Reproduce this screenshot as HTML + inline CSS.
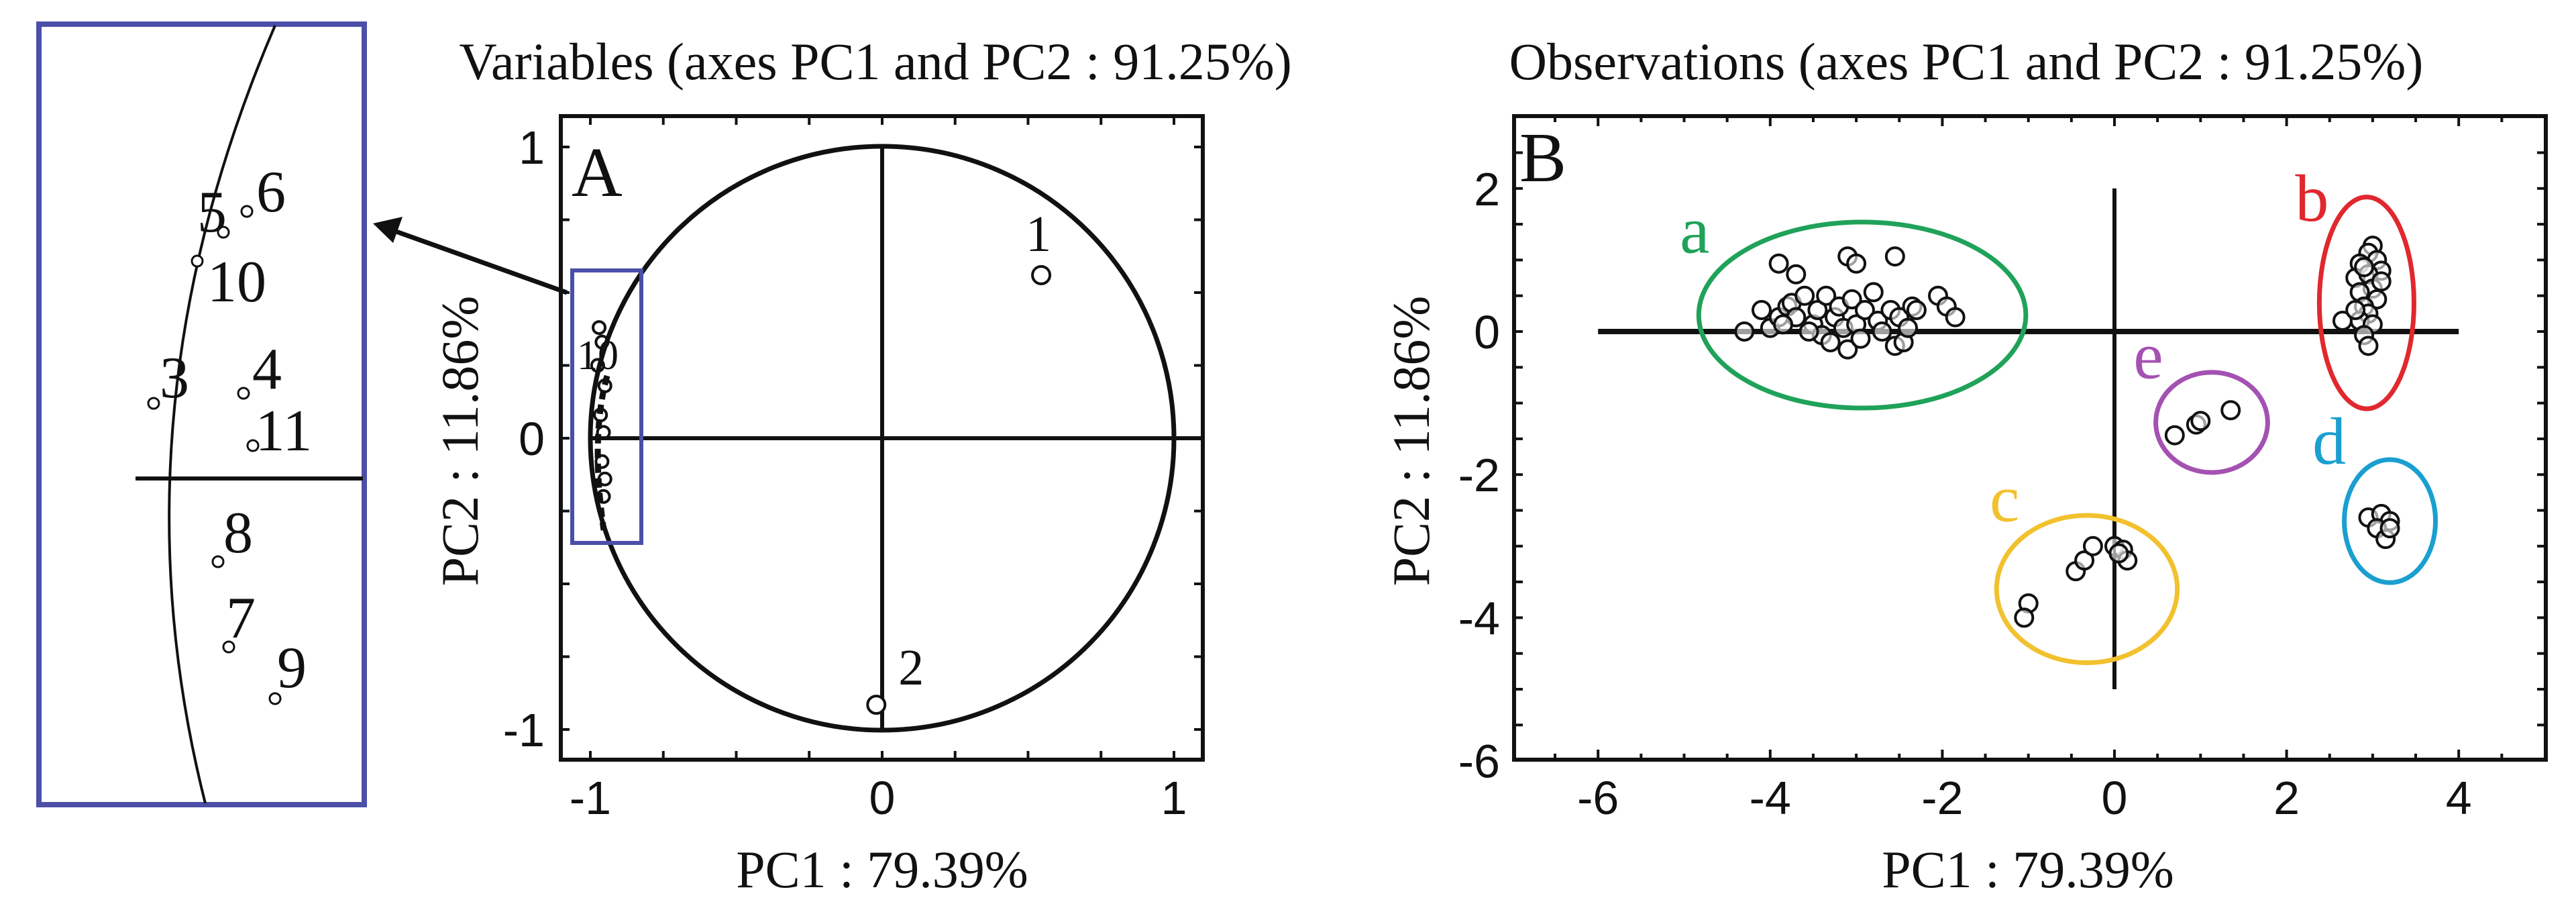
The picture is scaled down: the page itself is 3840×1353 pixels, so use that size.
<!DOCTYPE html>
<html><head><meta charset="utf-8"><style>
html,body{margin:0;padding:0;background:#fff;}
svg{display:block;}
text{font-family:"Liberation Serif",serif;fill:#111;}
.tick{font-family:"Liberation Sans",sans-serif;font-size:70px;}
</style></head><body>
<svg id="fig" width="3840" height="1353" viewBox="0 0 3840 1353" xmlns="http://www.w3.org/2000/svg">
<g id="inset"></g>
<g id="panelA"></g>
<g id="panelB"></g>
</svg>
<script>
// ---- Panel A data (variable loadings) ----
const varLabels = ["1","2"];
const varX = [0.545, -0.02];
const varY = [0.56, -0.915];
const clusterX = [-0.97,-0.96,-0.975,-0.95,-0.965,-0.955,-0.96,-0.95,-0.955];
const clusterY = [0.38,0.33,0.25,0.18,0.08,0.02,-0.08,-0.14,-0.2];
const axisTicksA = [-1,0,1];
// ---- Inset data (zoomed variables 3-11) ----
const insetLabels = ["5","6","10","3","4","11","8","7","9"];
const insetX = [333,368,294,229,363,377,325,341,410];
const insetY = [346,315,389,601,586,664,837,964,1041];
const insetLabelX = [316,404,353,260,398,423,355,359,435];
const insetLabelY = [315,285,419,562,549,641,793,920,994];

// ---- Panel B data (observations) ----
const groupNames = ["a","b","c","d","e"];
const groupColors = ["#1fa259","#e0282e","#f2c12e","#1a9fd0","#a452b2"];
const groupCX = [-2.93,2.93,-0.32,3.2,1.13];
const groupCY = [0.23,0.4,-3.6,-2.65,-1.27];
const groupRX = [1.9,0.55,1.05,0.53,0.65];
const groupRY = [1.3,1.48,1.03,0.86,0.7];
const groupLabelX = [-5.05,2.1,-1.45,2.3,0.22];
const groupLabelY = [1.1,1.55,-2.65,-1.85,-0.65];
const obsAX = [-3.9,-3.7,-3.1,-3.0,-2.55,-4.3,-4.1,-4.0,-3.9,-3.8,-3.75,-3.7,-3.6,-3.5,-3.45,-3.4,-3.35,-3.3,-3.25,-3.2,-3.15,-3.1,-3.05,-3.0,-2.95,-2.9,-2.8,-2.75,-2.7,-2.6,-2.55,-2.5,-2.45,-2.4,-2.35,-2.3,-2.05,-1.95,-1.85,-3.55,-3.85];
const obsAY = [0.95,0.8,1.05,0.95,1.05,0,0.3,0.05,0.2,0.35,0.4,0.2,0.5,0.1,0.3,-0.05,0.5,-0.15,0.2,0.35,0.05,-0.25,0.45,0.1,-0.1,0.3,0.55,0.15,0,0.3,-0.2,0.2,-0.15,0.05,0.35,0.3,0.5,0.35,0.2,0,0.1];
const obsBX = [3.0,2.95,3.05,2.85,3.1,2.8,2.95,3.0,2.85,3.05,2.9,2.95,2.85,3.0,2.65,2.9,2.95,2.8,3.1,2.9];
const obsBY = [1.2,1.1,1.0,0.95,0.85,0.75,0.8,0.6,0.55,0.45,0.35,0.25,0.15,0.1,0.15,-0.05,-0.2,0.3,0.7,0.9];
const obsCX = [-1.0,-1.05,-0.45,-0.35,-0.25,0,0.1,0.15,0.05];
const obsCY = [-3.8,-4.0,-3.35,-3.2,-3.0,-3.0,-3.05,-3.2,-3.1];
const obsDX = [2.95,3.1,3.2,3.05,3.15,3.2];
const obsDY = [-2.6,-2.55,-2.65,-2.75,-2.9,-2.75];
const obsEX = [0.7,0.95,1.0,1.35];
const obsEY = [-1.45,-1.3,-1.25,-1.1];
const xTicksB = [-6,-4,-2,0,2,4];
const yTicksB = [2,0,-2,-4,-6];

const NS="http://www.w3.org/2000/svg";
function mk(parent,tag,attrs,txt){const e=document.createElementNS(NS,tag);for(const k in attrs)e.setAttribute(k,attrs[k]);if(txt!==undefined)e.textContent=txt;parent.appendChild(e);return e;}

// ===== Panel A =====
const A=document.getElementById('panelA');
const ax=v=>1315+v*435, ay=v=>653-v*434;
let t=mk(A,'text',{x:1305,y:118,'font-size':78,'text-anchor':'middle'},"Variables (axes PC1 and PC2 : 91.25%)");


let f=mk(A,'rect',{x:836,y:173,width:957,height:959,fill:'none',stroke:'#111','stroke-width':6});


for(let v=-1;v<=1.01;v+=0.25){
  mk(A,'line',{x1:ax(v),x2:ax(v),y1:173,y2:186,stroke:'#111','stroke-width':4});
  mk(A,'line',{x1:ax(v),x2:ax(v),y1:1132,y2:1119,stroke:'#111','stroke-width':4});
  mk(A,'line',{x1:836,x2:849,y1:ay(v),y2:ay(v),stroke:'#111','stroke-width':4});
  mk(A,'line',{x1:1793,x2:1780,y1:ay(v),y2:ay(v),stroke:'#111','stroke-width':4});
}
axisTicksA.forEach(v=>{
  let e=mk(A,'text',{class:'tick',x:ax(v),y:1213,'text-anchor':'middle'},String(v));
  
  
  let g=mk(A,'text',{class:'tick',x:812,y:ay(v)+25,'text-anchor':'end'},String(v));
  
  
});
let c=mk(A,'circle',{cx:ax(0),cy:ay(0),r:435,fill:'none',stroke:'#111','stroke-width':7});


mk(A,'line',{x1:ax(0),x2:ax(0),y1:ay(1),y2:ay(-1),stroke:'#111','stroke-width':6});
mk(A,'line',{x1:ax(-1),x2:1793,y1:ay(0),y2:ay(0),stroke:'#111','stroke-width':6});
let la=mk(A,'text',{x:852,y:292,'font-size':105},"A");


varLabels.forEach((l,i)=>{
  let p=mk(A,'circle',{cx:ax(varX[i]),cy:ay(varY[i]),r:13,fill:'#fff',stroke:'#111','stroke-width':4});
  
  
  let lx=i==0?ax(varX[i])-4:ax(varX[i])+52, ly=i==0?ay(varY[i])-36:ay(varY[i])-30;
  let tl=mk(A,'text',{x:lx,y:ly,'font-size':76,'text-anchor':'middle'},l);
  
  
});
clusterX.forEach((x,i)=>{
  let p=mk(A,'circle',{cx:ax(x),cy:ay(clusterY[i]),r:9,fill:'none',stroke:'#111','stroke-width':4});
  
  
});
mk(A,'text',{x:860,y:550,'font-size':62},"10");
mk(A,'path',{d:'M905,560 Q880,650 900,790',fill:'none',stroke:'#111','stroke-width':9,'stroke-dasharray':'14 8'});
let bb=mk(A,'rect',{x:853,y:403,width:103,height:406,fill:'none',stroke:'#4b4fa8','stroke-width':6});


let ya=mk(A,'text',{x:0,y:0,'font-size':78,'text-anchor':'middle',transform:'translate(712,657) rotate(-90)'},"PC2 : 11.86%");


let xa=mk(A,'text',{x:1315,y:1322,'font-size':78,'text-anchor':'middle'},"PC1 : 79.39%");


let ar=mk(A,'line',{x1:845,y1:436,x2:585,y2:343,stroke:'#111','stroke-width':7});


mk(A,'polygon',{points:'556,333 600,323 586,362',fill:'#111'});

// ===== Inset =====
const I=document.getElementById('inset');
let ib=mk(I,'rect',{x:58,y:36,width:485,height:1163,fill:'#fff',stroke:'#4b4fa8','stroke-width':8});


mk(I,'path',{d:'M410,38 Q160,620 306,1197',fill:'none',stroke:'#111','stroke-width':4});
mk(I,'line',{x1:202,x2:541,y1:713,y2:713,stroke:'#111','stroke-width':6});
insetLabels.forEach((l,i)=>{
  let p=mk(I,'circle',{cx:insetX[i],cy:insetY[i],r:8,fill:'#fff',stroke:'#111','stroke-width':3});
  
  
  let tl=mk(I,'text',{x:insetLabelX[i],y:insetLabelY[i]+30,'font-size':88,'text-anchor':'middle'},l);
  
  
});

// ===== Panel B =====
const B=document.getElementById('panelB');
const bx=v=>3152+v*128.3, by=v=>494-v*106.6;
let tb=mk(B,'text',{x:2931,y:118,'font-size':78,'text-anchor':'middle'},"Observations (axes PC1 and PC2 : 91.25%)");


let fb=mk(B,'rect',{x:2257,y:173,width:1538,height:959,fill:'none',stroke:'#111','stroke-width':6});


for(let v=-6.5;v<=4.51;v+=0.5){
  mk(B,'line',{x1:bx(v),x2:bx(v),y1:173,y2:v%2===0?188:182,stroke:'#111','stroke-width':4});
  mk(B,'line',{x1:bx(v),x2:bx(v),y1:1132,y2:v%2===0?1117:1123,stroke:'#111','stroke-width':4});
}
for(let v=-5.5;v<=2.51;v+=0.5){
  mk(B,'line',{x1:2257,x2:2270,y1:by(v),y2:by(v),stroke:'#111','stroke-width':4});
  mk(B,'line',{x1:3795,x2:3782,y1:by(v),y2:by(v),stroke:'#111','stroke-width':4});
}
xTicksB.forEach(v=>{
  let e=mk(B,'text',{class:'tick',x:bx(v),y:1213,'text-anchor':'middle'},String(v));
  
  
});
yTicksB.forEach(v=>{
  let e=mk(B,'text',{class:'tick',x:2236,y:by(v)+25,'text-anchor':'end'},String(v));
  
  
});
mk(B,'line',{x1:bx(-6),x2:bx(4),y1:by(0),y2:by(0),stroke:'#111','stroke-width':8});
mk(B,'line',{x1:bx(0),x2:bx(0),y1:by(2),y2:by(-5),stroke:'#111','stroke-width':6});
let lb=mk(B,'text',{x:2265,y:270,'font-size':105},"B");


groupNames.forEach((g,i)=>{
  let e=mk(B,'ellipse',{cx:bx(groupCX[i]),cy:by(groupCY[i]),rx:groupRX[i]*128.3,ry:groupRY[i]*106.6,fill:'none',stroke:groupColors[i],'stroke-width':7});
  
  
  let tl=mk(B,'text',{x:bx(groupLabelX[i]),y:by(groupLabelY[i]),'font-size':100,style:'fill:'+groupColors[i]},g);
  
  
});
const sets=[[obsAX,obsAY,'a'],[obsBX,obsBY,'b'],[obsCX,obsCY,'c'],[obsDX,obsDY,'d'],[obsEX,obsEY,'e']];
sets.forEach(([X,Y,g])=>{
  X.forEach((x,i)=>{
    let p=mk(B,'circle',{cx:bx(x),cy:by(Y[i]),r:13,fill:'#fff','fill-opacity':0.6,stroke:'#111','stroke-width':4});
    
    
  });
});
let yb=mk(B,'text',{x:0,y:0,'font-size':78,'text-anchor':'middle',transform:'translate(2130,657) rotate(-90)'},"PC2 : 11.86%");


let xb=mk(B,'text',{x:3023,y:1322,'font-size':78,'text-anchor':'middle'},"PC1 : 79.39%");


</script>
</body></html>
